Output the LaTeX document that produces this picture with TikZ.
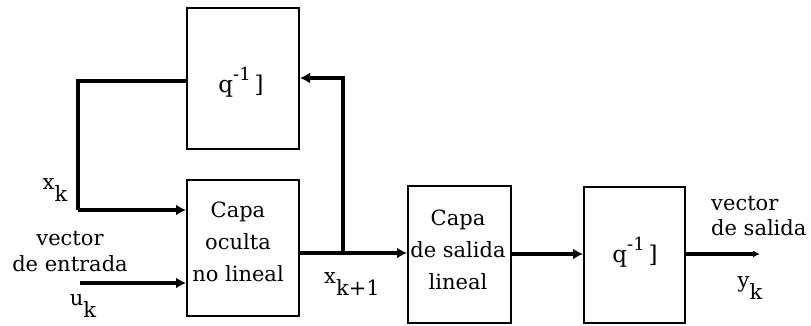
\documentclass[tikz,border=0pt]{standalone}
\usepackage{fontspec}
\setmainfont{DejaVu Serif}
\usetikzlibrary{arrows.meta}
\newcommand{\lowk}[1]{\raisebox{-0.55em}{#1}}
\newcommand{\qinv}{q\raisebox{0.5em}{\fontsize{18}{18}\selectfont -1}\,]}
\begin{document}
\begin{tikzpicture}[x=1pt,y=-1pt,
  blk/.style={draw,line width=2pt,inner sep=0pt},
  thickln/.style={line width=4.5pt},
  arr/.style={line width=4pt,-{Latex[length=10pt,width=11pt]}},
  thinarr/.style={line width=4pt,-{Latex[length=7pt,width=7pt]}},
  lbl/.style={font=\fontsize{21}{32}\selectfont,align=center,inner sep=0pt},
  qlbl/.style={font=\fontsize{23}{23}\selectfont,inner sep=0pt},
  sub/.style={font=\fontsize{21}{21}\selectfont,inner sep=0pt}]
\useasboundingbox (0,0) rectangle (811,325);
% blocks
\node[blk,minimum width=112pt,minimum height=141pt,anchor=north west] (d1) at (186,7) {};
\node[qlbl] at (241,82) {\qinv};
\node[blk,minimum width=112pt,minimum height=136pt,anchor=north west] (hid) at (186,179) {};
\node[lbl] at (238,242) {Capa\\oculta\\no lineal};
\node[blk,minimum width=103pt,minimum height=137pt,anchor=north west] (out) at (407,185) {};
\node[lbl] at (458,250) {Capa\\de salida\\lineal};
\node[blk,minimum width=101pt,minimum height=136pt,anchor=north west] (d2) at (583,186) {};
\node[qlbl] at (635,252) {\qinv};
% coordinates
\coordinate (fbL) at (78,81);
\coordinate (fbLb) at (78,210);
\coordinate (uin) at (80,283);
\coordinate (split) at (343,253);
\coordinate (fbR) at (343,78);
\coordinate (yout) at (760,254);
% connectors
\draw[thickln] (d1.west |- fbL) -- (fbL) -- (fbLb);
\draw[arr] (fbLb) -- (hid.west |- fbLb);
\draw[arr] (uin) -- (hid.west |- uin);
\draw[thickln] (hid.east |- split) -- (split);
\draw[arr] (split) -- (out.west |- split);
\draw[arr] (split) -- (fbR) -- (d1.east |- fbR);
\draw[arr] (out.east |- 0,254) -- (d2.west |- 0,254);
\draw[thinarr] (d2.east |- yout) -- (yout);
% labels
\node[sub] (xk) at (55,190) {x\lowk{k}};
\node[lbl,font=\fontsize{21}{26}\selectfont] (vin) at (70,251) {vector\\de entrada};
\node[sub] (uk) at (83,306) {u\lowk{k}};
\node[sub] (xk1) at (352,284) {x\lowk{k+1}};
\node[lbl,align=left,anchor=west,font=\fontsize{21}{25}\selectfont] (vout) at (711,216) {vector\\de salida};
\node[sub] (yk) at (750,288) {y\lowk{k}};
\end{tikzpicture}
\end{document}
